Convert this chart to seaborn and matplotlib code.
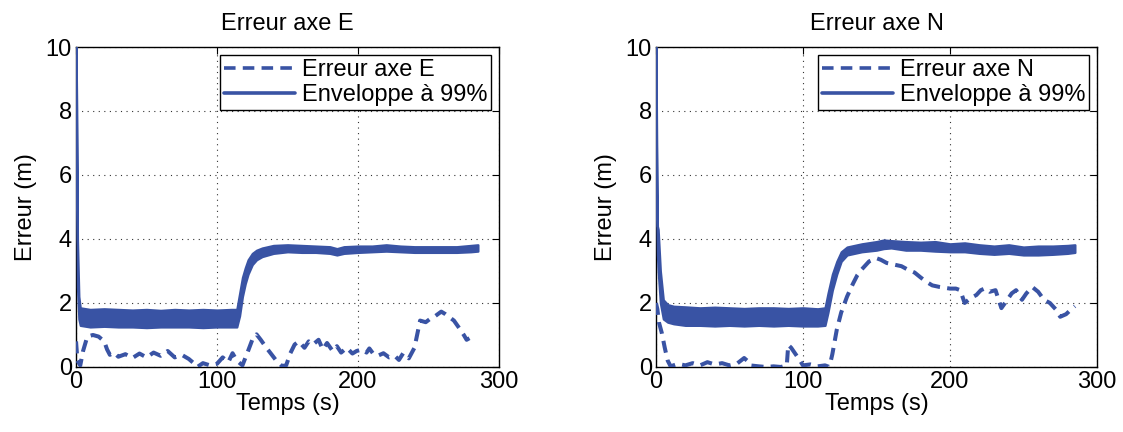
import matplotlib
matplotlib.use('Agg')
import matplotlib.pyplot as plt
from matplotlib.lines import Line2D
import seaborn as sns

sns.set_theme(style='white')
plt.rcParams['font.family'] = ['Liberation Sans', 'DejaVu Sans']
plt.rcParams['text.color'] = 'black'
plt.rcParams['axes.labelcolor'] = 'black'
plt.rcParams['xtick.color'] = 'black'
plt.rcParams['ytick.color'] = 'black'

BLUE = '#3953a4'

# Erreur axe E
t_err_e = [0, 1, 3, 5, 8, 12, 16, 20, 22, 24, 27, 30, 35, 40, 45, 50, 55, 60, 65, 70,
           75, 80, 84, 86, 90, 95, 100, 104, 108, 111, 114, 118, 122, 125, 128, 131,
           135, 138, 142, 146, 149, 152, 155, 158, 162, 165, 168, 172, 175, 178, 182,
           185, 188, 192, 196, 199, 203, 206, 208, 211, 214, 218, 222, 226, 229, 232,
           236, 240, 244, 248, 251, 255, 259, 262, 265, 268, 272, 275, 277, 279]
err_e = [0.8, 0.2, 0.05, 0.5, 0.95, 1.0, 0.95, 0.8, 0.55, 0.38, 0.45, 0.32, 0.4, 0.28,
         0.42, 0.3, 0.45, 0.35, 0.5, 0.3, 0.38, 0.25, 0.1, 0.0, 0.12, 0.05, 0.1, 0.3,
         0.15, 0.43, 0.2, 0.05, 0.5, 0.85, 1.02, 0.85, 0.6, 0.43, 0.2, 0.03, 0.05, 0.43,
         0.7, 0.8, 0.6, 0.8, 0.7, 0.85, 0.55, 0.75, 0.5, 0.65, 0.45, 0.6, 0.42, 0.5,
         0.55, 0.45, 0.58, 0.4, 0.35, 0.43, 0.3, 0.35, 0.22, 0.43, 0.27, 0.6, 1.45, 1.4,
         1.5, 1.6, 1.73, 1.65, 1.55, 1.45, 1.2, 1.0, 0.85, 0.9]

t_env_e = [0, 0.5, 1, 2, 3, 10, 20, 30, 40, 50, 60, 70, 80, 90, 100, 110, 114, 116,
           118, 120, 122, 125, 128, 132, 140, 150, 160, 170, 180, 185, 190, 200, 210,
           220, 230, 240, 250, 260, 270, 280, 285]
env_e_hi = [10, 8, 4, 2.2, 1.85, 1.8, 1.82, 1.8, 1.78, 1.8, 1.77, 1.8, 1.78, 1.8, 1.78,
            1.8, 1.8, 2.3, 2.8, 3.1, 3.35, 3.55, 3.65, 3.72, 3.8, 3.82, 3.8, 3.78, 3.76,
            3.7, 3.76, 3.78, 3.78, 3.82, 3.78, 3.76, 3.76, 3.76, 3.76, 3.8, 3.82]
env_e_lo = [10, 6, 2.5, 1.5, 1.3, 1.25, 1.27, 1.25, 1.25, 1.23, 1.25, 1.25, 1.25, 1.23,
            1.25, 1.25, 1.25, 1.6, 2.2, 2.6, 2.9, 3.2, 3.35, 3.45, 3.55, 3.6, 3.58, 3.58,
            3.55, 3.5, 3.55, 3.58, 3.6, 3.62, 3.6, 3.58, 3.58, 3.58, 3.58, 3.6, 3.62]

# Erreur axe N
t_err_n = [0, 1, 2, 4, 6, 8, 10, 15, 20, 25, 30, 35, 40, 45, 50, 55, 60, 62, 64, 70,
           75, 80, 85, 89, 90, 92, 95, 98, 100, 105, 110, 115, 118, 120, 123, 126, 130,
           134, 137, 140, 145, 150, 153, 157, 162, 167, 171, 176, 180, 184, 188, 193,
           200, 204, 207, 210, 214, 218, 221, 224, 227, 231, 235, 239, 242, 245, 249,
           252, 256, 260, 264, 268, 272, 275, 279, 282, 285]
err_n = [2.0, 1.8, 1.4, 1.06, 0.6, 0.2, 0.02, 0.1, 0.05, 0.12, 0.05, 0.15, 0.08, 0.12,
         0.05, 0.1, 0.28, 0.2, 0.05, 0.02, 0.0, 0.02, 0.0, 0.05, 0.69, 0.6, 0.4, 0.2,
         0.05, 0.08, 0.02, 0.05, 0.0, 0.4, 1.16, 1.7, 2.2, 2.6, 2.87, 3.05, 3.3, 3.4,
         3.35, 3.25, 3.2, 3.15, 3.05, 2.95, 2.8, 2.66, 2.55, 2.5, 2.45, 2.45, 2.4, 2.0,
         2.15, 2.25, 2.4, 2.46, 2.35, 2.4, 1.84, 2.1, 2.3, 2.4, 2.1, 2.3, 2.5, 2.35, 2.1,
         2.0, 1.8, 1.57, 1.65, 1.78, 1.9]

t_env_n = [0, 0.5, 1, 1.5, 3, 5, 8, 12, 20, 30, 40, 50, 60, 70, 80, 90, 100, 110, 115,
           117, 120, 123, 126, 130, 140, 150, 155, 160, 170, 180, 190, 200, 210, 220,
           230, 240, 250, 260, 270, 280, 285]
env_n_hi = [10, 7, 4.4, 4.3, 3.0, 2.1, 1.95, 1.9, 1.88, 1.85, 1.87, 1.85, 1.83, 1.85,
            1.85, 1.83, 1.85, 1.82, 1.85, 2.3, 2.9, 3.3, 3.6, 3.75, 3.85, 3.92, 3.97,
            3.95, 3.92, 3.9, 3.92, 3.85, 3.88, 3.82, 3.78, 3.82, 3.75, 3.78, 3.78, 3.8,
            3.82]
env_n_lo = [10, 5, 3.5, 3.0, 2.0, 1.5, 1.4, 1.35, 1.3, 1.3, 1.28, 1.3, 1.28, 1.3, 1.28,
            1.3, 1.28, 1.28, 1.3, 1.7, 2.4, 2.9, 3.3, 3.5, 3.6, 3.65, 3.7, 3.72, 3.65,
            3.65, 3.62, 3.6, 3.6, 3.55, 3.52, 3.55, 3.5, 3.5, 3.52, 3.55, 3.58]

panels = [
    ('Erreur axe E', t_err_e, err_e, t_env_e, env_e_lo, env_e_hi),
    ('Erreur axe N', t_err_n, err_n, t_env_n, env_n_lo, env_n_hi),
]

fig = plt.figure(figsize=(11.23, 4.32), dpi=100)
axes = [fig.add_axes([0.0677, 0.1505, 0.3767, 0.7407]),
        fig.add_axes([0.5841, 0.1505, 0.3927, 0.7407])]

dash = (0, (3.0, 1.8))
for ax, (title, t_err, err, t_env, lo, hi) in zip(axes, panels):
    ax.fill_between(t_env, lo, hi, color=BLUE, lw=1.6, zorder=3)
    sns.lineplot(x=t_err, y=err, ax=ax, color=BLUE, lw=2.9, linestyle=dash, zorder=3)
    ax.set_xlim(0, 300)
    ax.set_ylim(0, 10)
    ax.set_xticks([0, 100, 200, 300])
    ax.set_yticks([0, 2, 4, 6, 8, 10])
    ax.grid(True, color='#333333', linestyle=(0, (1, 4)), lw=0.8)
    ax.tick_params(direction='in', top=True, right=True, labelsize=17, length=5,
                   width=0.8, color='black', pad=3)
    for s in ax.spines.values():
        s.set_color('black')
        s.set_linewidth(1.0)
    ax.set_title(title, fontsize=17, pad=12)
    ax.set_xlabel('Temps (s)', fontsize=17, labelpad=0)
    ax.set_ylabel('Erreur (m)', fontsize=17, labelpad=6)
    handles = [Line2D([], [], color=BLUE, lw=2.6, linestyle=(0, (3.2, 2))),
               Line2D([], [], color=BLUE, lw=2.6)]
    leg = ax.legend(handles, [title, 'Enveloppe à 99%'], loc='upper right',
                    fontsize=17, frameon=True, fancybox=False, framealpha=1,
                    borderaxespad=0.35, borderpad=0.15, labelspacing=0.15,
                    handlelength=3.0, handletextpad=0.3)
    leg.get_frame().set_edgecolor('black')
    leg.get_frame().set_linewidth(1.0)

fig.savefig('out.png', dpi=100)
